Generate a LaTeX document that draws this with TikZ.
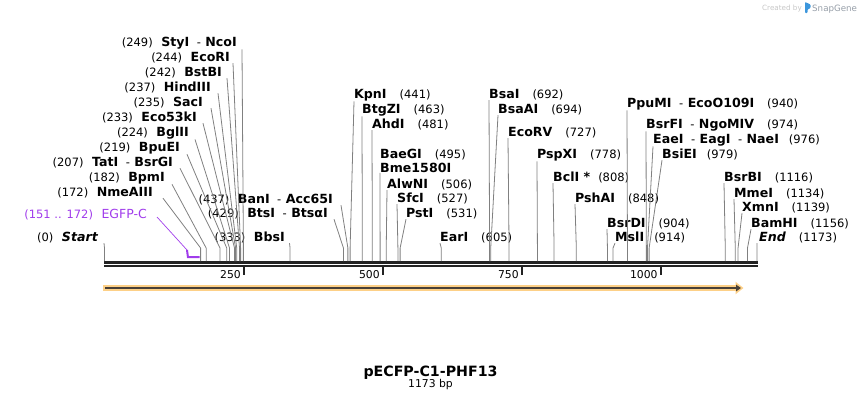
\documentclass[tikz,border=0pt]{standalone}
\usepackage{fontspec}
\setmainfont{DejaVu Sans}
\usetikzlibrary{arrows.meta}

\definecolor{cutgray}{RGB}{128,128,128}
\definecolor{seqblack}{RGB}{34,34,34}
\definecolor{egfp}{RGB}{160,60,235}
\definecolor{featorange}{RGB}{253,208,135}
\definecolor{featdark}{RGB}{72,64,56}
\definecolor{logogray}{RGB}{150,158,168}
\definecolor{logoblue}{RGB}{60,150,220}

\newcommand{\ename}[1]{{\fontsize{12.6}{14}\selectfont\bfseries #1}}
\newcommand{\esep}{\hspace{7.5pt}-\hspace{4.5pt}}
\newcommand{\lgap}{\hspace{8.5pt}}
\newcommand{\rgap}{\hspace{13pt}}
\newcommand{\bpx}[1]{105+0.5558*#1}

\begin{document}
\begin{tikzpicture}[x=1pt, y=-1pt]

    \tikzset{lab/.style={%
      inner sep=0pt,%
      font=\fontsize{11.5}{13}\selectfont}%
    };

    \tikzset{labl/.style={lab, anchor=base east}};
    \tikzset{labr/.style={lab, anchor=base west}};
    \tikzset{cut/.style={draw=cutgray, line width=0.8pt}};
    \tikzset{tick/.style={draw=seqblack, line width=2pt}};
    \tikzset{ticklab/.style={lab, anchor=base east, font=\fontsize{10.8}{12}\selectfont}};

    \useasboundingbox (0,0) rectangle (862,400);

    %%%%%%%%%%%%%%%
    %  sequence   %
    %%%%%%%%%%%%%%%
    \path (0,261) coordinate (seq);
    \draw [line width=3pt, seqblack] (104,262.5) -- (758,262.5);
    \draw [line width=2pt, seqblack] (104,266) -- (758,266);

    \path ({\bpx{250}-3},278.5) node [ticklab] (t250) {250};
    \path ({\bpx{500}-3},278.5) node [ticklab] (t500) {500};
    \path ({\bpx{750}-3},278.5) node [ticklab] (t750) {750};
    \path ({\bpx{1000}-3},278.5) node [ticklab] (t1000) {1000};
    \draw [tick] ({\bpx{250}},265) -- ++(0,9.5);
    \draw [tick] ({\bpx{500}},265) -- ++(0,9.5);
    \draw [tick] ({\bpx{750}},265) -- ++(0,9.5);
    \draw [tick] ({\bpx{1000}},265) -- ++(0,9.5);

    %%%%%%%%%%%%%%%
    %  feature    %
    %%%%%%%%%%%%%%%
    \path (103,288) coordinate (fa) (743.5,288) coordinate (fb);
    \draw [line width=6pt, featorange, -{Triangle[length=8pt, width=12pt]}] (fa) -- (fb);
    \draw [line width=2pt, featdark, -{Triangle[length=5pt, width=6.5pt]}] ([xshift=2pt]fa) -- ([xshift=-2.5pt]fb);

    %%%%%%%%%%%%%%%
    %  left sites %
    %%%%%%%%%%%%%%%
    \path (98,241.5) node [labl] (sta) {(0)\lgap\ename{\itshape Start}};
    \path (147,218.5) node [labl, text=egfp] (egf) {(151 .. 172)\lgap{\fontsize{12.5}{14}\selectfont EGFP-C}};
    \path (153,196.5) node [labl] (nme) {(172)\lgap\ename{NmeAIII}};
    \path (165,181.5) node [labl] (bpm) {(182)\lgap\ename{BpmI}};
    \path (173,166.5) node [labl] (tat) {(207)\lgap\ename{TatI}\esep\ename{BsrGI}};
    \path (180,151.5) node [labl] (bpu) {(219)\lgap\ename{BpuEI}};
    \path (189,136.5) node [labl] (bgl) {(224)\lgap\ename{BglII}};
    \path (197,121.5) node [labl] (e53) {(233)\lgap\ename{Eco53kI}};
    \path (203,106.5) node [labl] (sac) {(235)\lgap\ename{SacI}};
    \path (211,91.5) node [labl] (hin) {(237)\lgap\ename{HindIII}};
    \path (222,76.5) node [labl] (bst) {(242)\lgap\ename{BstBI}};
    \path (230,61.5) node [labl] (ecr) {(244)\lgap\ename{EcoRI}};
    \path (237,46.5) node [labl] (sty) {(249)\lgap\ename{StyI}\esep\ename{NcoI}};
    \path (285,241.5) node [labl] (bbs) {(333)\lgap\ename{BbsI}};
    \path (328,217.5) node [labl] (bts) {(429)\lgap\ename{BtsI}\esep\ename{BtsαI}};
    \path (333,203.5) node [labl] (ban) {(437)\lgap\ename{BanI}\esep\ename{Acc65I}};

    \draw [cut] ([xshift=6pt]sta.south east) -- ({\bpx{0}-0.5},248) coordinate (sta-s) -- (sta-s |- seq);
    \draw [egfp, line width=0.7pt] ([xshift=10pt, yshift=1.5pt]egf.base east) -- (187,250) coordinate (egf-s);
    \draw [egfp, line width=2pt] (egf-s) -- ({\bpx{151}-1},257) coordinate (egf-a) -- ({\bpx{172}-1},257);
    \draw [cut] ([xshift=10pt]nme.south east) -- ({\bpx{172}},248) coordinate (nme-s) -- (nme-s |- seq);
    \draw [cut] ([xshift=7pt]bpm.south east) -- ({\bpx{182}},248) coordinate (bpm-s) -- (bpm-s |- seq);
    \draw [cut] ([xshift=7pt]tat.south east) -- ({\bpx{207}},248) coordinate (tat-s) -- (tat-s |- seq);
    \draw [cut] ([xshift=7pt]bpu.south east) -- ({\bpx{219}},248) coordinate (bpu-s) -- (bpu-s |- seq);
    \draw [cut] ([xshift=6pt]bgl.south east) -- ({\bpx{224}},248) coordinate (bgl-s) -- (bgl-s |- seq);
    \draw [cut] ([xshift=6pt]e53.south east) -- ({\bpx{233}},248) coordinate (e53-s) -- (e53-s |- seq);
    \draw [cut] ([xshift=8pt]sac.south east) -- ({\bpx{235}},248) coordinate (sac-s) -- (sac-s |- seq);
    \draw [cut] ([xshift=7pt]hin.south east) -- ({\bpx{237}},248) coordinate (hin-s) -- (hin-s |- seq);
    \draw [cut] ([xshift=5pt]bst.south east) -- ({\bpx{242}},248) coordinate (bst-s) -- (bst-s |- seq);
    \draw [cut] ([xshift=3pt]ecr.south east) -- ({\bpx{244}},248) coordinate (ecr-s) -- (ecr-s |- seq);
    \draw [cut] ([xshift=5pt]sty.south east) -- ({\bpx{249}},248) coordinate (sty-s) -- (sty-s |- seq);
    \draw [cut] ([xshift=4.5pt]bbs.south east) -- ({\bpx{333}},248) coordinate (bbs-s) -- (bbs-s |- seq);
    \draw [cut] ([xshift=6pt]bts.south east) -- ({\bpx{429}},248) coordinate (bts-s) -- (bts-s |- seq);
    \draw [cut] ([xshift=8pt]ban.south east) -- ({\bpx{437}},248) coordinate (ban-s) -- (ban-s |- seq);

    %%%%%%%%%%%%%%%
    %  mid sites  %
    %%%%%%%%%%%%%%%
    \path (354,98.5) node [labr] (kpn) {\ename{KpnI}\rgap(441)};
    \path (362,113.5) node [labr] (btg) {\ename{BtgZI}\rgap(463)};
    \path (372,128.5) node [labr] (ahd) {\ename{AhdI}\rgap(481)};
    \path (380,158.5) node [labr] (bae) {\ename{BaeGI}\rgap(495)};
    \path (380,172.5) node [labr] (bme) {\ename{Bme1580I}};
    \path (387,188.5) node [labr] (alw) {\ename{AlwNI}\rgap(506)};
    \path (397,202.5) node [labr] (sfc) {\ename{SfcI}\rgap(527)};
    \path (406,217.5) node [labr] (pst) {\ename{PstI}\rgap(531)};
    \path (440,241.5) node [labr] (ear) {\ename{EarI}\rgap(605)};
    \path (489,98.5) node [labr] (bsa) {\ename{BsaI}\rgap(692)};
    \path (498,113.5) node [labr] (baa) {\ename{BsaAI}\rgap(694)};
    \path (508,136.5) node [labr] (ecv) {\ename{EcoRV}\rgap(727)};
    \path (537,158.5) node [labr] (psp) {\ename{PspXI}\rgap(778)};
    \path (553,181.5) node [labr] (bcl) {\ename{BclI *}\hspace{8pt}(808)};
    \path (575,202.5) node [labr] (psh) {\ename{PshAI}\rgap(848)};

    \draw [cut] (kpn.south west) -- ({\bpx{441}},248) coordinate (kpn-s) -- (kpn-s |- seq);
    \draw [cut] (btg.south west) -- ({\bpx{463}},248) coordinate (btg-s) -- (btg-s |- seq);
    \draw [cut] (ahd.south west) -- ({\bpx{481}},248) coordinate (ahd-s) -- (ahd-s |- seq);
    \draw [cut] (bme.south west) -- ({\bpx{495}},248) coordinate (bme-s) -- (bme-s |- seq);
    \draw [cut] (alw.south west) -- ({\bpx{506}},248) coordinate (alw-s) -- (alw-s |- seq);
    \draw [cut] (sfc.south west) -- ({\bpx{527}},248) coordinate (sfc-s) -- (sfc-s |- seq);
    \draw [cut] (pst.south west) -- ({\bpx{531}},248) coordinate (pst-s) -- (pst-s |- seq);
    \draw [cut] (ear.south west) -- ({\bpx{605}},248) coordinate (ear-s) -- (ear-s |- seq);
    \draw [cut] (bsa.south west) -- ({\bpx{692}},248) coordinate (bsa-s) -- (bsa-s |- seq);
    \draw [cut] (baa.south west) -- ({\bpx{694}},248) coordinate (baa-s) -- (baa-s |- seq);
    \draw [cut] (ecv.south west) -- ({\bpx{727}},248) coordinate (ecv-s) -- (ecv-s |- seq);
    \draw [cut] (psp.south west) -- ({\bpx{778}},248) coordinate (psp-s) -- (psp-s |- seq);
    \draw [cut] (bcl.south west) -- ({\bpx{808}},248) coordinate (bcl-s) -- (bcl-s |- seq);
    \draw [cut] (psh.south west) -- ({\bpx{848}},248) coordinate (psh-s) -- (psh-s |- seq);

    %%%%%%%%%%%%%%%
    % right sites %
    %%%%%%%%%%%%%%%
    \path (607,227.5) node [labr] (bsd) {\ename{BsrDI}\rgap(904)};
    \path (615,241.5) node [labr] (msl) {\ename{MslI}\hspace{10pt}(914)};
    \path (627,107.5) node [labr] (ppu) {\ename{PpuMI}\esep\ename{EcoO109I}\rgap(940)};
    \path (646,128.5) node [labr] (bsf) {\ename{BsrFI}\esep\ename{NgoMIV}\rgap(974)};
    \path (653,143.5) node [labr] (eae) {\ename{EaeI}\esep\ename{EagI}\esep\ename{NaeI}\hspace{10pt}(976)};
    \path (662,158.5) node [labr] (bsi) {\ename{BsiEI}\hspace{10pt}(979)};
    \path (724,181.5) node [labr] (bsb) {\ename{BsrBI}\rgap(1116)};
    \path (734,197.5) node [labr] (mme) {\ename{MmeI}\rgap(1134)};
    \path (742,211.5) node [labr] (xmn) {\ename{XmnI}\rgap(1139)};
    \path (751,227.5) node [labr] (bam) {\ename{BamHI}\rgap(1156)};
    \path (759,241.5) node [labr] (fin) {\ename{\itshape End}\rgap(1173)};

    \draw [cut] (bsd.south west) -- ({\bpx{904}},248) coordinate (bsd-s) -- (bsd-s |- seq);
    \draw [cut] (msl.south west) -- ({\bpx{914}},248) coordinate (msl-s) -- (msl-s |- seq);
    \draw [cut] (ppu.south west) -- ({\bpx{940}},248) coordinate (ppu-s) -- (ppu-s |- seq);
    \draw [cut] (bsf.south west) -- ({\bpx{974}},248) coordinate (bsf-s) -- (bsf-s |- seq);
    \draw [cut] (eae.south west) -- ({\bpx{976}},248) coordinate (eae-s) -- (eae-s |- seq);
    \draw [cut] (bsi.south west) -- ({\bpx{979}},248) coordinate (bsi-s) -- (bsi-s |- seq);
    \draw [cut] (bsb.south west) -- ({\bpx{1116}},248) coordinate (bsb-s) -- (bsb-s |- seq);
    \draw [cut] (mme.south west) -- ({\bpx{1134}},248) coordinate (mme-s) -- (mme-s |- seq);
    \draw [cut] (xmn.south west) -- ({\bpx{1139}},248) coordinate (xmn-s) -- (xmn-s |- seq);
    \draw [cut] (bam.south west) -- ({\bpx{1156}},248) coordinate (bam-s) -- (bam-s |- seq);
    \draw [cut] ([xshift=-2pt]fin.south west) -- ({\bpx{1173}},248) coordinate (fin-s) -- (fin-s |- seq);

    %%%%%%%%%%%%%%%
    %   title     %
    %%%%%%%%%%%%%%%
    \path (430.5,376) node [anchor=base, inner sep=0pt, font=\fontsize{14.2}{16}\selectfont\bfseries] (ttl) {pECFP-C1-PHF13};
    \path (430.5,387.5) node [anchor=base, inner sep=0pt, font=\fontsize{10.8}{12}\selectfont] (len) {1173 bp};

    % logo
    \path (802,10) node [anchor=base east, inner sep=0pt, text=black!22, font=\fontsize{7.2}{8}\selectfont] (cby) {Created by};
    \fill [logoblue, rounded corners=0.8pt] (805,2) -- (810.5,4.5) -- (810.5,8) -- (807.5,9.5) -- (807.5,13) -- (805,13) -- cycle;
    \path (812,11) node [anchor=base west, inner sep=0pt, text=logogray, font=\fontsize{8.7}{10}\selectfont] (sng) {SnapGene};

  \end{tikzpicture}
\end{document}
